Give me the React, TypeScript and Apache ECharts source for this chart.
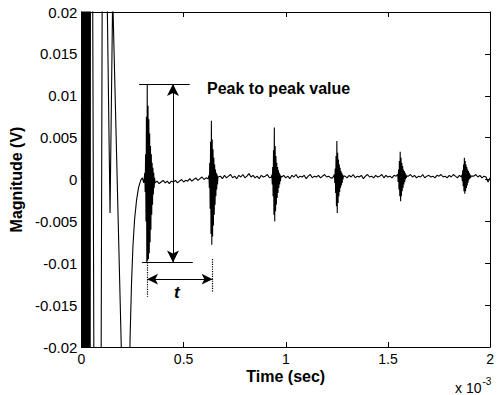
import React, { useEffect, useRef } from "react";
import * as echarts from "echarts";

// Axis ranges (time in ms, i.e. units of 10^-3 s; magnitude in V)
const X_MIN = 0;
const X_MAX = 2;
const X_STEP = 0.5;
const Y_MIN = -0.02;
const Y_MAX = 0.02;
const Y_STEP = 0.005;

// Large start-up oscillation (goes off-scale), then settling curve
const EARLY: [number, number][] = [
  [0.0, 0.0], [0.003, 0.06], [0.006, -0.06], [0.009, 0.06], [0.012, -0.06],
  [0.015, 0.06], [0.018, -0.06], [0.021, 0.06], [0.024, -0.06], [0.027, 0.06],
  [0.030, -0.06], [0.033, 0.06], [0.036, -0.06], [0.039, 0.06], [0.042, -0.06],
  [0.045, 0.06], [0.05, 0.06], [0.066, -0.06], [0.092, -0.06], [0.106, 0.06],
  [0.116, 0.04], [0.14, -0.004], [0.153, 0.022], [0.205, -0.03],
  [0.225, -0.05], [0.232, -0.03], [0.238, -0.019], [0.245, -0.0125],
  [0.252, -0.008], [0.26, -0.0048], [0.27, -0.0024], [0.28, -0.0009],
  [0.29, -0.0001], [0.298, 0.0002], [0.305, -0.0004],
];

// Echo bursts: start time (ms) and sample values every BURST_DT ms
const BURST_DT = 0.002;
const BURST_STARTS = [0.31, 0.624, 0.932, 1.238, 1.548, 1.862];
const BURST_1 = [0.0008, -0.0015, 0.003, -0.005, 0.0075, -0.0099, 0.0114, -0.0097, 0.0088, -0.0095, 0.0072, -0.0088, 0.0055, -0.0075, 0.004, -0.006, 0.003, -0.0042, 0.002, -0.003, 0.0014, -0.0018, 0.0008, -0.001, 0.0002];
const BURST_2 = [0.0005, -0.001, 0.002, -0.0035, 0.0045, -0.0065, 0.007, -0.0078, 0.0048, -0.0068, 0.0036, -0.0055, 0.0026, -0.0042, 0.0018, -0.003, 0.0012, -0.002, 0.0008, -0.0012, 0.0006, -0.0006, 0.0003];
const BURST_3 = [0.0006, -0.0006, 0.0015, -0.002, 0.0035, -0.0042, 0.0062, -0.005, 0.004, -0.0038, 0.0028, -0.003, 0.002, -0.0022, 0.0015, -0.0016, 0.0011, -0.001, 0.0008, -0.0006, 0.0006, -0.0002, 0.0004];
const BURST_4 = [0.0006, -0.0004, 0.0013, -0.0016, 0.0028, -0.0032, 0.0046, -0.004, 0.0032, -0.0028, 0.0024, -0.002, 0.0018, -0.0015, 0.0014, -0.001, 0.001, -0.0007, 0.0008, -0.0004, 0.0006, 0.0, 0.0004];
const BURST_5 = [0.0006, -0.0003, 0.0012, -0.0012, 0.0022, -0.002, 0.0033, -0.0026, 0.0026, -0.002, 0.002, -0.0014, 0.0016, -0.001, 0.0012, -0.0006, 0.001, -0.0003, 0.0008, 0.0, 0.0006, 0.0002, 0.0004];
const BURST_6 = [0.0006, -0.0002, 0.0011, -0.0008, 0.0018, -0.0014, 0.0026, -0.0017, 0.0022, -0.0014, 0.0018, -0.001, 0.0015, -0.0007, 0.0012, -0.0004, 0.001, -0.0001, 0.0008, 0.0001, 0.0006, 0.0002, 0.0004];
const BURSTS = [BURST_1, BURST_2, BURST_3, BURST_4, BURST_5, BURST_6];

// Noisy baseline between bursts, one value every BASE_DT ms from BASE_T0
// (values inside a burst window are not drawn)
const BASE_T0 = 0.36;
const BASE_DT = 0.01;
const BASELINE = [
  -0.0004, -0.0002, -0.0005, -0.0003, -0.0001, -0.0004, -0.0002, -0.0005, -0.0002, -0.0003,
  -0.0001, -0.0004, -0.0002, 0.0, -0.0003, -0.0001, -0.0002, 0.0001, -0.0002, 0.0,
  0.0002, -0.0001, 0.0001, 0.0003, 0.0, 0.0002, 0.0001, 0.0, 0.0, 0.0,
  0.0, 0.0003, 0.0004, 0.0001, 0.0005, 0.0002, 0.0004, 0.0006, 0.0002, 0.0004,
  0.0001, 0.0005, 0.0003, 0.0006, 0.0002, 0.0004, 0.0007, 0.0003, 0.0005, 0.0002,
  0.0004, 0.0001, 0.0005, 0.0003, 0.0004, 0.0006, 0.0002, 0.0003, 0.0, 0.0,
  0.0, 0.0, 0.0003, 0.0005, 0.0002, 0.0004, 0.0001, 0.0005, 0.0003, 0.0006,
  0.0002, 0.0004, 0.0003, 0.0005, 0.0001, 0.0004, 0.0006, 0.0002, 0.0004, 0.0003,
  0.0005, 0.0002, 0.0004, 0.0006, 0.0003, 0.0004, 0.0002, 0.0002, 0.0, 0.0,
  0.0, 0.0, 0.0, 0.0004, 0.0002, 0.0005, 0.0003, 0.0006, 0.0002, 0.0004,
  0.0003, 0.0005, 0.0001, 0.0004, 0.0006, 0.0003, 0.0004, 0.0002, 0.0005, 0.0003,
  0.0004, 0.0006, 0.0002, 0.0005, 0.0003, 0.0004, 0.0002, 0.0005, 0.0004, 0.0,
  0.0, 0.0, 0.0, 0.0, 0.0004, 0.0006, 0.0003, 0.0005, 0.0002, 0.0004,
  0.0003, 0.0006, 0.0002, 0.0004, 0.0005, 0.0003, 0.0004, 0.0002, 0.0005, 0.0004,
  0.0006, 0.0003, 0.0004, 0.0002, 0.0005, 0.0003, 0.0006, 0.0004, 0.0002, 0.0005,
  0.0003, 0.0, 0.0, 0.0, 0.0, 0.0004, 0.0004, 0.0006, 0.0003, 0.0005,
  0.0002, 0.0004, 0.0003, -0.0003, 0.0002,
];

// Annotation geometry in data units
const PEAK_HI = 0.0114;
const PEAK_LO = -0.0099;
const PP_ARROW_T = 0.448;
const HI_LINE = [0.282, 0.53];
const LO_LINE = [0.297, 0.545];
const PERIOD = [0.321, 0.642];
const PERIOD_Y = -0.0119;
const DOT_BOTTOM = -0.014;

function buildSignal(): [number, number][] {
  const pts: [number, number][] = [...EARLY];
  const windows: [number, number][] = [];
  BURSTS.forEach((b, i) => {
    const s = BURST_STARTS[i];
    windows.push([s - 0.001, s + (b.length - 1) * BURST_DT + 0.001]);
    b.forEach((v, j) => pts.push([s + j * BURST_DT, v]));
  });
  BASELINE.forEach((v, k) => {
    const t = +(BASE_T0 + k * BASE_DT).toFixed(4);
    if (!windows.some(([a, b]) => t >= a && t <= b)) pts.push([t, v]);
  });
  pts.sort((a, b) => a[0] - b[0]);
  return pts;
}

const FONT = "Liberation Sans, Arial, Helvetica, sans-serif";

export default function App() {
  const ref = useRef<HTMLDivElement>(null);
  useEffect(() => {
    document.body.style.margin = "0";
    if (!ref.current) return;
    const chart = echarts.init(ref.current, null, { renderer: "svg" });
    const black = "#000";
    const axisCommon = {
      axisLine: { show: true, onZero: false, lineStyle: { color: black, width: 1 } },
      axisTick: { show: true, inside: true, length: 5, lineStyle: { color: black, width: 1 } },
      splitLine: { show: false },
    };
    const fmtY = (v: number) => String(+v.toFixed(3));
    const fmtX = (v: number) => String(+v.toFixed(2));
    chart.setOption({
      animation: false,
      backgroundColor: "#fff",
      grid: { left: 81, right: 5, top: 12, bottom: 48, containLabel: false },
      xAxis: [
        {
          ...axisCommon,
          type: "value", position: "bottom", min: X_MIN, max: X_MAX, interval: X_STEP,
          axisLabel: { color: black, fontFamily: FONT, fontSize: 14, margin: 5, formatter: fmtX },
          name: "Time (sec)", nameLocation: "middle", nameGap: 21, nameMoveOverlap: false,
          nameTextStyle: { color: black, fontFamily: FONT, fontSize: 16, fontWeight: "bold", verticalAlign: "top" },
        },
        {
          ...axisCommon,
          type: "value", position: "top", min: X_MIN, max: X_MAX, interval: X_STEP,
          axisLabel: { show: false },
        },
      ],
      yAxis: [
        {
          ...axisCommon,
          type: "value", position: "left", min: Y_MIN, max: Y_MAX, interval: Y_STEP,
          axisLabel: { color: black, fontFamily: FONT, fontSize: 15, margin: 4, formatter: fmtY },
          name: "Magnitude (V)", nameLocation: "middle", nameGap: 57,
          nameTextStyle: { color: black, fontFamily: FONT, fontSize: 16, fontWeight: "bold" },
        },
        {
          ...axisCommon,
          type: "value", position: "right", min: Y_MIN, max: Y_MAX, interval: Y_STEP,
          axisLabel: { show: false },
        },
      ],
      series: [
        {
          type: "line",
          data: buildSignal(),
          showSymbol: false,
          symbol: "none",
          clip: true,
          lineStyle: { color: black, width: 1.1 },
          markLine: {
            silent: true,
            label: { show: false },
            symbol: ["none", "none"],
            lineStyle: { color: black, width: 1, type: "solid" },
            data: [
              [{ coord: [HI_LINE[0], PEAK_HI] }, { coord: [HI_LINE[1], PEAK_HI] }],
              [{ coord: [LO_LINE[0], PEAK_LO] }, { coord: [LO_LINE[1], PEAK_LO] }],
              [
                { coord: [PP_ARROW_T, PEAK_HI], symbol: "arrow", symbolSize: [9, 12] },
                { coord: [PP_ARROW_T, PEAK_LO], symbol: "arrow", symbolSize: [9, 12] },
              ],
              [
                { coord: [PERIOD[0], PERIOD_Y], symbol: "arrow", symbolSize: [8, 11] },
                { coord: [PERIOD[1], PERIOD_Y], symbol: "arrow", symbolSize: [8, 11] },
              ],
              [
                { coord: [PERIOD[0], PEAK_LO], lineStyle: { type: "dotted", width: 1.2 } },
                { coord: [PERIOD[0], DOT_BOTTOM] },
              ],
              [
                { coord: [PERIOD[1], PEAK_LO + 0.0004], lineStyle: { type: "dotted", width: 1.2 } },
                { coord: [PERIOD[1], DOT_BOTTOM + 0.0005] },
              ],
            ],
          },
        },
      ],
      graphic: [
        {
          type: "text", left: 207, top: 80,
          style: { text: "Peak to peak value", fill: black, font: `bold 16px ${FONT}` },
        },
        {
          type: "text", left: 174, top: 284,
          style: { text: "t", fill: black, font: `italic bold 17px ${FONT}` },
        },
        {
          type: "text", left: 455, top: 376,
          style: {
            text: "{a|x 10}{b|-3}",
            rich: {
              a: { fontSize: 14, fontFamily: FONT, fill: black, verticalAlign: "bottom" },
              b: { fontSize: 10, fontFamily: FONT, fill: black, padding: [0, 0, 9, 1] },
            },
          },
        },
      ],
    });
    return () => chart.dispose();
  }, []);
  return (
    <div
      ref={ref}
      style={{ position: "absolute", left: 0, top: 0, width: 497, height: 395, background: "#fff" }}
    />
  );
}
